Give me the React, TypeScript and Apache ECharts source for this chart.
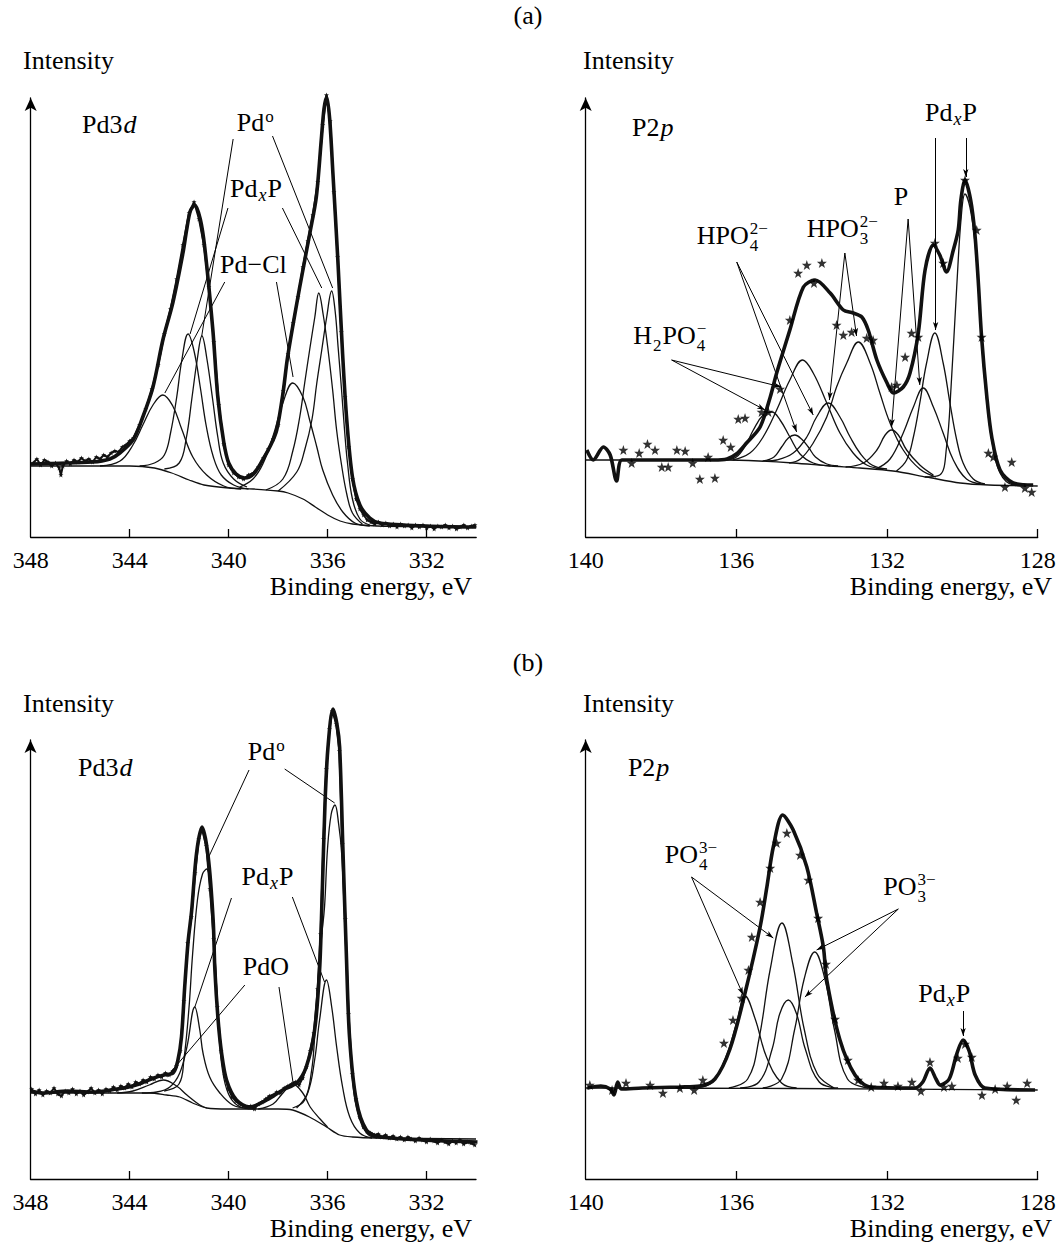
import React, { useEffect, useRef } from "react";
import * as echarts from "echarts";

const FONT = '"Liberation Serif", "Times New Roman", serif';
const INK = "#111";

// ---------- tick values ----------
const pdTickLabels = [332, 336, 340, 344, 348];
const pdTickMarks = [332, 336, 340, 344];
const pTickLabels = [128, 132, 136, 140];
const pTickMarks = [128, 132, 136];

// ---------- (a) Pd3d ----------
const aPdFit = [[348,73],[345.5,75],[344.8,78],[344.4,84],[343.87,97],[343.5,118],[343.06,150],[342.66,197],[342.25,235],[341.84,285],[341.7,307],[341.55,326],[341.37,332],[341.15,318],[340.97,290],[340.64,207],[340.44,140],[340.2,95],[340.0,74],[339.7,63],[339.35,59],[339.0,63],[338.63,77],[338.3,92],[338.06,107],[337.8,145],[337.62,180],[337.13,250],[336.72,304],[336.46,340],[336.26,397],[336.15,428],[336.04,440],[335.92,418],[335.79,364],[335.59,277],[335.4,184],[335.23,117],[335.0,60],[334.7,32],[334.3,19],[333.9,14],[332,11],[330,10]];
const aPdBackground = [[348,71],[344,71],[343,69],[342.3,64],[341.6,57],[341,52],[340,49],[339,48],[338,46],[337.6,44],[337,38],[336.5,30],[336,22],[335.5,16],[335,13],[334,11],[330,10]];
const aPdCl1 = [[345.2,71],[344.39,76],[343.87,92],[343.47,112],[343.06,132],[342.66,142],[342.26,131],[341.9,108],[341.45,80],[340.89,62],[340.2,51],[339.5,48]];
const aPdxP1 = [[343.6,71],[343.0,74],[342.6,82],[342.35,104],[342.1,140],[341.9,176],[341.64,203],[341.4,186],[341.15,150],[340.9,110],[340.62,80],[340.3,62],[339.8,52],[339.2,48]];
const aPd0_1 = [[342.6,68],[342.0,74],[341.72,98],[341.48,140],[341.28,176],[341.08,201],[340.88,178],[340.64,136],[340.44,100],[340.22,74],[339.8,58],[339.26,50]];
const aPdCl2 = [[339.55,50],[339.02,58],[338.62,73],[338.22,100],[337.81,134],[337.41,154],[337.0,140],[336.73,117],[336.44,90],[336.2,67],[335.8,42],[335.39,25],[334.9,14],[334.3,11]];
const aPdxP2 = [[338.5,47],[337.81,58],[337.41,86],[337.13,120],[336.93,154],[336.73,187],[336.52,220],[336.36,244],[336.18,222],[336.0,190],[335.8,147],[335.64,107],[335.44,72],[335.23,43],[335.0,24],[334.6,13]];
const aPd0_2 = [[338.0,46],[337.25,65],[336.93,87],[336.64,117],[336.44,154],[336.24,187],[336.04,220],[335.84,246],[335.7,226],[335.58,190],[335.44,147],[335.32,107],[335.2,74],[335.0,38],[334.7,18],[334.3,12]];
const aPdData = [[347.9,74],[347.75,78],[347.6,72],[347.45,77],[347.3,75],[347.15,71],[347.0,74],[346.85,69],[346.78,62],[346.7,71],[346.55,76],[346.4,73],[346.25,77],[346.1,75],[345.95,79],[345.8,76],[345.65,78],[345.5,75],[345.35,80],[345.2,78],[345.05,82],[344.9,80],[344.75,84],[344.6,86],[344.45,85],[344.3,90],[344.15,92],[344.0,96],[343.85,99],[343.6,112],[343.35,128],[343.1,148],[342.85,172],[342.6,203],[342.35,228],[342.1,258],[341.85,292],[341.6,324],[341.4,335],[341.2,318],[341.0,292],[340.8,250],[340.6,195],[340.4,132],[340.2,93],[340.0,72],[339.8,64],[339.6,60],[339.4,58],[339.2,62],[339.0,64],[338.8,70],[338.6,79],[338.4,88],[338.2,98],[338.0,112],[337.8,146],[337.6,183],[337.4,214],[337.2,240],[337.0,270],[336.8,296],[336.6,322],[336.4,355],[336.2,412],[336.05,442],[335.9,416],[335.75,345],[335.6,280],[335.45,205],[335.3,140],[335.15,90],[335.0,58],[334.85,38],[334.7,28],[334.55,22],[334.4,17],[334.25,15],[334.1,13],[333.95,15],[333.8,12],[333.65,14],[333.5,11],[333.35,13],[333.2,10],[333.05,13],[332.9,11],[332.75,12],[332.6,9],[332.45,12],[332.3,10],[332.15,12],[332.0,9],[331.85,11],[331.7,8],[331.55,11],[331.4,10],[331.25,12],[331.1,9],[330.95,11],[330.8,8],[330.65,10],[330.5,12],[330.35,9],[330.2,11],[330.05,12]];

// ---------- (a) P2p ----------
const aPFit = [[139.97,87],[139.8,77],[139.53,90],[139.35,82],[139.18,56],[139.04,77],[138.5,77],[137.5,77],[136.6,77],[136.25,78],[136.0,83],[135.73,94],[135.37,110],[135.1,140],[134.93,164],[134.58,207],[134.22,250],[133.91,257],[133.51,244],[133.16,227],[132.9,224],[132.67,220],[132.5,207],[132.27,177],[132.0,154],[131.83,144],[131.57,150],[131.39,164],[131.17,204],[130.99,267],[130.77,292],[130.6,282],[130.42,265],[130.24,287],[130.11,307],[130.04,337],[129.93,357],[129.78,337],[129.67,304],[129.58,257],[129.49,200],[129.35,140],[129.22,100],[129.0,67],[128.65,54],[128.12,52]];
const aPBackground = [[140,77],[136.3,77],[135.4,76],[134.49,74],[133.5,71],[132.72,69],[131.84,66],[130.95,60],[130.06,54],[129.3,52],[128,51]];
const aPComp1 = [[136.3,77],[136.0,80],[135.75,92],[135.55,107],[135.29,122],[135.06,125],[134.84,117],[134.58,100],[134.31,83],[133.96,74],[133.5,71]];
const aPComp2 = [[135.3,76],[135.0,80],[134.8,90],[134.62,99],[134.45,102],[134.27,98],[134.09,90],[133.9,80],[133.6,73],[133.3,71]];
const aPComp3 = [[136.1,77],[135.64,84],[135.29,100],[134.93,127],[134.58,157],[134.24,177],[133.96,164],[133.6,134],[133.25,104],[132.9,84],[132.54,72],[132.1,68]];
const aPComp4 = [[135.2,76],[134.93,77],[134.49,84],[134.13,100],[133.87,120],[133.56,134],[133.25,120],[132.98,100],[132.72,84],[132.4,72],[132.0,68]];
const aPComp5 = [[134.6,74],[134.3,78],[133.96,94],[133.6,120],[133.34,150],[133.07,174],[132.76,195],[132.45,174],[132.19,144],[131.92,114],[131.57,87],[131.13,68],[130.7,60]];
const aPComp6 = [[133.1,70],[132.63,74],[132.27,87],[132.05,102],[131.88,107],[131.7,102],[131.48,87],[131.13,72],[130.77,62]];
const aPComp7 = [[132.3,68],[131.92,78],[131.57,104],[131.3,130],[131.04,149],[130.77,130],[130.51,104],[130.24,77],[129.89,58],[129.5,53]];
const aPComp8 = [[131.75,66],[131.48,77],[131.3,100],[131.13,134],[130.95,174],[130.73,204],[130.51,174],[130.33,134],[130.15,97],[129.98,74],[129.71,58],[129.4,53]];
const aPComp9 = [[131.0,60],[130.6,62],[130.42,90],[130.3,150],[130.15,250],[130.03,320],[129.93,343],[129.8,330],[129.67,296],[129.58,250],[129.49,195],[129.35,135],[129.22,97],[129.0,64],[128.65,52],[128.3,51]];
const aPStars = [[139.0,87],[138.78,74],[138.58,84],[138.36,93],[138.16,87],[137.98,70],[137.81,70],[137.58,87],[137.36,86],[137.16,74],[136.97,58],[136.75,80],[136.57,59],[136.35,97],[136.15,90],[135.95,118],[135.77,119],[135.33,125],[135.15,125],[134.84,148],[134.58,217],[134.36,264],[134.13,272],[133.94,254],[133.73,274],[133.34,212],[133.16,202],[132.94,205],[132.54,199],[132.37,197],[131.88,150],[131.74,152],[131.52,180],[131.35,204],[131.17,200],[130.73,294],[130.51,274],[129.93,357],[129.62,307],[129.49,200],[129.31,84],[129.18,80],[128.87,50],[128.69,75],[128.34,49],[128.16,45]];

// ---------- (b) Pd3d ----------
const bPdFit = [[348,88],[347.5,86],[346.5,88],[345.5,87],[344.5,90],[344.03,92],[343.5,96],[343.02,101],[342.61,104],[342.24,106],[342.05,118],[341.9,142],[341.77,192],[341.63,238],[341.49,268],[341.29,326],[341.07,352],[340.82,322],[340.62,259],[340.55,209],[340.42,159],[340.28,126],[340.08,99],[339.68,79],[339.14,72],[338.46,79],[337.81,89],[337.25,96],[336.86,112],[336.52,149],[336.32,209],[336.22,280],[336.1,376],[335.98,432],[335.78,470],[335.62,455],[335.51,432],[335.38,332],[335.24,226],[335.11,142],[334.84,79],[334.43,49],[333.9,42],[329.94,37]];
const bPdBackground = [[348,86],[343.2,86],[342.5,84],[341.97,82],[341.45,76],[340.88,71],[340,70],[338,70],[337.41,69],[336.73,62],[336.04,52],[335.51,44],[334.99,42],[334,41],[330,40]];
const bPdO1 = [[344.5,86],[343.86,88],[343.2,94],[342.64,99],[342.1,93],[341.68,84],[341.16,74],[340.88,71]];
const bPdxP1 = [[343.5,86],[342.9,87],[342.37,92],[341.97,106],[341.68,132],[341.36,172],[341.16,149],[341.03,126],[340.76,102],[340.35,86],[339.83,74],[339.26,71]];
const bPd0_1 = [[342.6,88],[342.0,95],[341.8,120],[341.6,170],[341.45,225],[341.25,280],[341.05,305],[340.88,310],[340.72,290],[340.6,250],[340.5,200],[340.4,150],[340.25,110],[340.0,85],[339.6,73],[339,70]];
const bPdO2 = [[338.8,70],[338.2,75],[337.8,86],[337.41,95],[337.0,86],[336.7,72],[336.3,60],[336.0,52]];
const bPdxP2 = [[337.25,71],[336.8,86],[336.52,119],[336.32,159],[336.04,199],[335.83,172],[335.63,132],[335.39,92],[335.1,62],[334.7,46],[334.2,41]];
const bPd0_2 = [[337.41,71],[336.92,79],[336.64,109],[336.52,142],[336.4,192],[336.24,242],[336.12,272],[336.0,330],[335.85,365],[335.7,374],[335.55,355],[335.43,326],[335.31,259],[335.23,209],[335.11,142],[334.99,99],[334.78,66],[334.42,46],[334,41]];
const bPdData = [[347.95,90],[347.8,85],[347.65,89],[347.5,84],[347.35,88],[347.2,86],[347.05,91],[346.9,85],[346.75,83],[346.6,88],[346.45,86],[346.3,90],[346.15,85],[346.0,88],[345.85,84],[345.7,87],[345.55,91],[345.4,86],[345.25,89],[345.1,85],[344.95,90],[344.8,88],[344.65,92],[344.5,89],[344.35,93],[344.2,91],[344.05,95],[343.9,92],[343.75,97],[343.6,95],[343.45,99],[343.3,97],[343.15,102],[343.0,100],[342.85,104],[342.7,102],[342.55,106],[342.4,104],[342.25,108],[342.1,113],[341.95,128],[341.8,178],[341.65,236],[341.5,262],[341.35,306],[341.2,340],[341.07,350],[340.9,333],[340.75,290],[340.6,240],[340.45,172],[340.3,128],[340.15,104],[340.0,90],[339.85,82],[339.7,78],[339.55,75],[339.4,73],[339.25,72],[339.1,73],[338.95,70],[338.8,75],[338.65,77],[338.5,80],[338.35,83],[338.2,84],[338.05,87],[337.9,86],[337.75,91],[337.6,93],[337.45,95],[337.3,97],[337.15,94],[337.0,101],[336.85,112],[336.7,128],[336.55,146],[336.4,190],[336.28,245],[336.16,340],[336.05,410],[335.92,450],[335.8,468],[335.65,455],[335.52,428],[335.4,335],[335.28,260],[335.15,165],[335.0,105],[334.85,80],[334.7,62],[334.55,52],[334.4,48],[334.25,46],[334.1,44],[333.95,45],[333.8,42],[333.65,44],[333.5,41],[333.35,43],[333.2,40],[333.05,42],[332.9,39],[332.75,42],[332.6,40],[332.45,38],[332.3,41],[332.15,39],[332.0,37],[331.85,40],[331.7,38],[331.55,36],[331.4,39],[331.25,37],[331.1,35],[330.95,38],[330.8,36],[330.65,39],[330.5,35],[330.35,37],[330.2,36],[330.05,34]];

// ---------- (b) P2p ----------
const bPFit = [[139.95,91],[139.6,93],[139.35,90],[139.25,84],[139.15,97],[139.05,90],[138.5,91],[137.5,92],[136.97,93],[136.57,100],[136.17,130],[135.77,186],[135.37,252],[135.19,292],[135.02,332],[134.77,364],[134.49,349],[134.13,312],[133.87,266],[133.69,232],[133.6,199],[133.25,139],[132.85,104],[132.45,92],[131.26,91],[131.05,97],[130.86,111],[130.7,100],[130.59,94],[130.35,100],[130.15,125],[129.98,139],[129.82,128],[129.66,104],[129.4,91],[128.07,89]];
const bPBackground = [[140,91],[134.5,90.5],[128,89]];
const bPO4a = [[137.2,91],[136.7,95],[136.3,120],[136.0,155],[135.77,183],[135.5,160],[135.2,122],[134.8,96],[134.4,91]];
const bPO4b = [[136.2,91],[135.7,100],[135.4,140],[135.1,210],[134.79,256],[134.5,215],[134.2,150],[133.85,105],[133.4,91]];
const bPO3a = [[135.9,91],[135.4,97],[135.05,130],[134.85,165],[134.62,179],[134.4,165],[134.17,130],[133.8,97],[133.3,91]];
const bPO3b = [[135.3,91],[134.8,100],[134.45,150],[134.2,200],[133.92,227],[133.65,200],[133.4,150],[133.05,100],[132.5,91]];
const bPStars = [[139.89,94],[139.3,89],[138.93,96],[138.29,94],[137.95,86],[137.5,91],[137.12,89],[136.89,99],[136.33,136],[136.09,159],[135.86,181],[135.68,209],[135.59,242],[135.37,277],[135.1,311],[134.93,336],[134.66,346],[134.31,324],[134.09,299],[133.83,261],[133.62,215],[133.38,160],[133.04,119],[132.77,99],[132.42,92],[132.08,96],[131.71,93],[131.34,97],[131.1,88],[130.86,117],[130.49,92],[130.28,93],[130.12,121],[129.93,135],[129.75,122],[129.48,84],[129.13,90],[128.81,93],[128.57,79],[128.28,96]];

// ---------- annotations (label anchors: left edge / vertical centre, in data units) ----------
type Piece = [string, string];
const PD3D: Piece[] = [["n", "Pd3"], ["i", "d"]];
const P2P: Piece[] = [["n", "P2"], ["i", "p"]];
const PD0: Piece[] = [["n", "Pd"], ["sup", "o"]];
const PDXP: Piece[] = [["n", "Pd"], ["subi", "x"], ["n", "P"]];

const aPdNotes = [
  { e: 345.93, h: 413, p: PD3D },
  { e: 339.67, h: 415, p: PD0 },
  { e: 339.95, h: 349, p: PDXP },
  { e: 340.35, h: 273, p: [["n", "Pd\u2212Cl"]] as Piece[] },
];
const aPNotes = [
  { e: 138.77, h: 410, p: P2P },
  { e: 130.99, h: 425, p: PDXP },
  { e: 131.82, h: 341, p: [["n", "P"]] as Piece[] },
  { e: 134.13, h: 309, p: [["n", "HPO"], ["sub", "3"], ["sups", "2\u2212"]] as Piece[] },
  { e: 137.05, h: 302, p: [["n", "HPO"], ["sub", "4"], ["sups", "2\u2212"]] as Piece[] },
  { e: 138.74, h: 202, p: [["n", "H"], ["sub", "2"], ["n", "PO"], ["sub", "4"], ["sups", "\u2212"]] as Piece[] },
];
const bPdNotes = [
  { e: 346.08, h: 412, p: PD3D },
  { e: 339.22, h: 428, p: PD0 },
  { e: 339.47, h: 303, p: PDXP },
  { e: 339.42, h: 213, p: [["n", "PdO"]] as Piece[] },
];
const bPNotes = [
  { e: 138.88, h: 412, p: P2P },
  { e: 137.9, h: 325, p: [["n", "PO"], ["sub", "4"], ["sups", "3\u2212"]] as Piece[] },
  { e: 132.1, h: 293, p: [["n", "PO"], ["sub", "3"], ["sups", "3\u2212"]] as Piece[] },
  { e: 131.17, h: 186, p: PDXP },
];

const aPdArrows = [
  [[339.82, 398], [341.09, 201]], [[338.23, 401], [335.8, 249]],
  [[340.03, 329], [341.56, 203]], [[337.83, 329], [336.24, 249]],
  [[340.16, 255], [342.58, 144]], [[338.07, 255], [337.4, 160]],
];
const aPArrows = [
  [[137.72, 177], [135.24, 127]], [[137.72, 177], [134.8, 150]],
  [[135.99, 275], [134.4, 105]], [[135.99, 275], [133.96, 122]],
  [[133.12, 284], [133.53, 137]], [[133.12, 284], [132.81, 201]],
  [[131.44, 318], [131.88, 110]], [[131.44, 318], [131.13, 152]],
  [[130.71, 399], [130.71, 207]], [[129.91, 399], [129.91, 360]],
];
const bPdArrows = [
  [[339.17, 409], [340.82, 321]], [[337.73, 410], [335.71, 376]],
  [[339.88, 281], [341.36, 172]], [[337.42, 282], [336.12, 197]],
  [[339.34, 194], [342.5, 102]], [[337.96, 192], [337.39, 96]],
];
const bPArrows = [
  [[137.19, 302], [135.02, 241]], [[137.19, 302], [135.82, 184]],
  [[131.7, 270], [133.87, 229]], [[131.7, 270], [134.18, 182]],
  [[129.98, 168], [129.98, 143]],
];

// ---------- layout ----------
const W = 1057, H = 1245;
const Y_MAX = 439;
const GRIDS = [
  { left: 30.7, top: 98, width: 445.5, height: 439, min: 330, max: 348, labels: pdTickLabels, ticks: pdTickMarks },
  { left: 585.7, top: 98, width: 452, height: 439, min: 128, max: 140, labels: pTickLabels, ticks: pTickMarks },
  { left: 30.5, top: 740, width: 445.5, height: 439, min: 330, max: 348, labels: pdTickLabels, ticks: pdTickMarks },
  { left: 585.7, top: 740, width: 452, height: 439, min: 128, max: 140, labels: pTickLabels, ticks: pTickMarks },
];
const PANELS = [
  { fit: aPdFit, bg: aPdBackground, comps: [aPdCl1, aPdxP1, aPd0_1, aPdCl2, aPdxP2, aPd0_2], data: aPdData, dense: true, notes: aPdNotes, arrows: aPdArrows, heads: false },
  { fit: aPFit, bg: aPBackground, comps: [aPComp1, aPComp2, aPComp3, aPComp4, aPComp5, aPComp6, aPComp7, aPComp8, aPComp9], data: aPStars, dense: false, notes: aPNotes, arrows: aPArrows, heads: true },
  { fit: bPdFit, bg: bPdBackground, comps: [bPdO1, bPdxP1, bPd0_1, bPdO2, bPdxP2, bPd0_2], data: bPdData, dense: true, notes: bPdNotes, arrows: bPdArrows, heads: false },
  { fit: bPFit, bg: bPBackground, comps: [bPO4a, bPO4b, bPO3a, bPO3b], data: bPStars, dense: false, notes: bPNotes, arrows: bPArrows, heads: true },
];
const TEXTS = [
  { x: 528, y: 15, t: "(a)", align: "center" },
  { x: 528, y: 662, t: "(b)", align: "center" },
  { x: 23, y: 60, t: "Intensity", align: "left" },
  { x: 583, y: 60, t: "Intensity", align: "left" },
  { x: 23, y: 703, t: "Intensity", align: "left" },
  { x: 583, y: 703, t: "Intensity", align: "left" },
  { x: 472, y: 586, t: "Binding energy, eV", align: "right" },
  { x: 1052, y: 586, t: "Binding energy, eV", align: "right" },
  { x: 472, y: 1228, t: "Binding energy, eV", align: "right" },
  { x: 1052, y: 1228, t: "Binding energy, eV", align: "right" },
];
const PIECE_STYLE: Record<string, { size: number; italic: boolean; dy: number; lh: number }> = {
  n: { size: 26, italic: false, dy: 0, lh: 20 },
  i: { size: 26, italic: true, dy: 0, lh: 20 },
  sub: { size: 17, italic: false, dy: 10, lh: 12 },
  subi: { size: 18, italic: true, dy: 7, lh: 12 },
  sup: { size: 17, italic: false, dy: -6, lh: 12 },
  sups: { size: 17, italic: false, dy: -7, lh: 12 },
};
const PIECE_GAP = 1;
const STAR = "path://M0,-10L2.35,-3.24L9.51,-3.09L3.8,1.24L5.88,8.09L0,4L-5.88,8.09L-3.8,1.24L-9.51,-3.09L-2.35,-3.24Z";

function noteItems(notes: { e: number; h: number; p: Piece[] }[]) {
  const ctx = document.createElement("canvas").getContext("2d") as CanvasRenderingContext2D;
  const items: any[] = [];
  for (const note of notes) {
    let x = 0, lastStart = 0, lastW = 0;
    for (const [kind, text] of note.p) {
      const st = PIECE_STYLE[kind];
      ctx.font = `${st.italic ? "italic " : ""}${st.size}px ${FONT}`;
      const w = ctx.measureText(text).width;
      let px: number;
      if (kind === "sups") {
        px = lastStart;
        x = lastStart + Math.max(lastW, w) + PIECE_GAP;
      } else {
        px = x;
        lastStart = x;
        lastW = w;
        x += w + PIECE_GAP;
      }
      items.push({
        value: [note.e, note.h],
        label: {
          show: true,
          formatter: text,
          position: "inside",
          align: "left",
          verticalAlign: "middle",
          offset: [px, st.dy],
          fontSize: st.size,
          lineHeight: st.lh,
          fontStyle: st.italic ? "italic" : "normal",
          fontFamily: FONT,
          color: "#000",
          opacity: 1,
        },
      });
    }
  }
  return items;
}

function buildOption() {
  const grid = GRIDS.map((g) => ({ left: g.left, top: g.top, width: g.width, height: g.height, containLabel: false, outerBoundsMode: "none" }));
  const xAxis = GRIDS.map((g, i) => ({
    gridIndex: i,
    type: "value",
    inverse: true,
    min: g.min,
    max: g.max,
    axisLine: { show: true, onZero: false, lineStyle: { color: "#000", width: 1.3 } },
    axisTick: { show: true, inside: true, length: 8, customValues: g.ticks, lineStyle: { color: "#000", width: 1.3 } },
    axisLabel: { show: true, customValues: g.labels, fontSize: 24, fontFamily: FONT, color: "#000", margin: 11 },
    splitLine: { show: false },
  }));
  const yAxis = GRIDS.map((g, i) => ({
    gridIndex: i,
    type: "value",
    min: 0,
    max: Y_MAX,
    axisLine: { show: true, onZero: false, symbol: ["none", "arrow"], symbolSize: [9, 13], lineStyle: { color: "#000", width: 1.3 } },
    axisTick: { show: false },
    axisLabel: { show: false },
    splitLine: { show: false },
  }));
  const series: any[] = [];
  PANELS.forEach((p, i) => {
    const base = { xAxisIndex: i, yAxisIndex: i, clip: false, silent: true, animation: false };
    series.push({ ...base, type: "line", data: p.bg, smooth: 0.3, symbol: "none", lineStyle: { color: INK, width: 1.3 }, z: 2 });
    p.comps.forEach((c) => {
      series.push({ ...base, type: "line", data: c, smooth: 0.4, symbol: "none", lineStyle: { color: INK, width: 1.3 }, z: 3 });
    });
    if (p.dense) {
      series.push({ ...base, type: "line", data: p.data, symbol: STAR, symbolSize: 5, showSymbol: true, showAllSymbol: true, lineStyle: { color: INK, width: 2 }, itemStyle: { color: INK }, z: 4 });
    }
    series.push({ ...base, type: "line", data: p.fit, smooth: 0.3, symbol: "none", lineStyle: { color: INK, width: 3.6 }, z: 5 });
    if (!p.dense) {
      series.push({ ...base, type: "scatter", data: p.data, symbol: STAR, symbolSize: 10, itemStyle: { color: "#000" }, z: 6 });
    }
    series.push({
      ...base,
      type: "scatter",
      data: noteItems(p.notes),
      symbol: "circle",
      symbolSize: 1,
      itemStyle: { color: "rgba(0,0,0,0)" },
      z: 7,
      markLine: {
        silent: true,
        animation: false,
        symbol: p.heads ? ["none", "arrow"] : ["none", "none"],
        symbolSize: [4, 8],
        lineStyle: { color: "#000", width: 1, type: "solid" },
        label: { show: false },
        emphasis: { disabled: true },
        data: p.arrows.map(([a, b]) => [{ coord: a }, { coord: b }]),
      },
    });
  });
  const graphic = TEXTS.map((t) => ({
    type: "text",
    x: t.x,
    y: t.y,
    silent: true,
    style: {
      text: t.t,
      fill: "#000",
      fontSize: 26,
      fontFamily: FONT,
      align: t.align,
      verticalAlign: "middle",
      textAlign: t.align,
      textVerticalAlign: "middle",
    },
  }));
  return {
    animation: false,
    backgroundColor: "#fff",
    textStyle: { fontFamily: FONT },
    grid,
    xAxis,
    yAxis,
    series,
    graphic,
  };
}

export default function App() {
  const ref = useRef<HTMLDivElement>(null);
  useEffect(() => {
    if (!ref.current) return;
    const chart = echarts.init(ref.current, null, { renderer: "svg" });
    chart.setOption(buildOption() as any);
    return () => chart.dispose();
  }, []);
  return <div ref={ref} style={{ position: "absolute", left: 0, top: 0, width: W, height: H, background: "#fff" }} />;
}
